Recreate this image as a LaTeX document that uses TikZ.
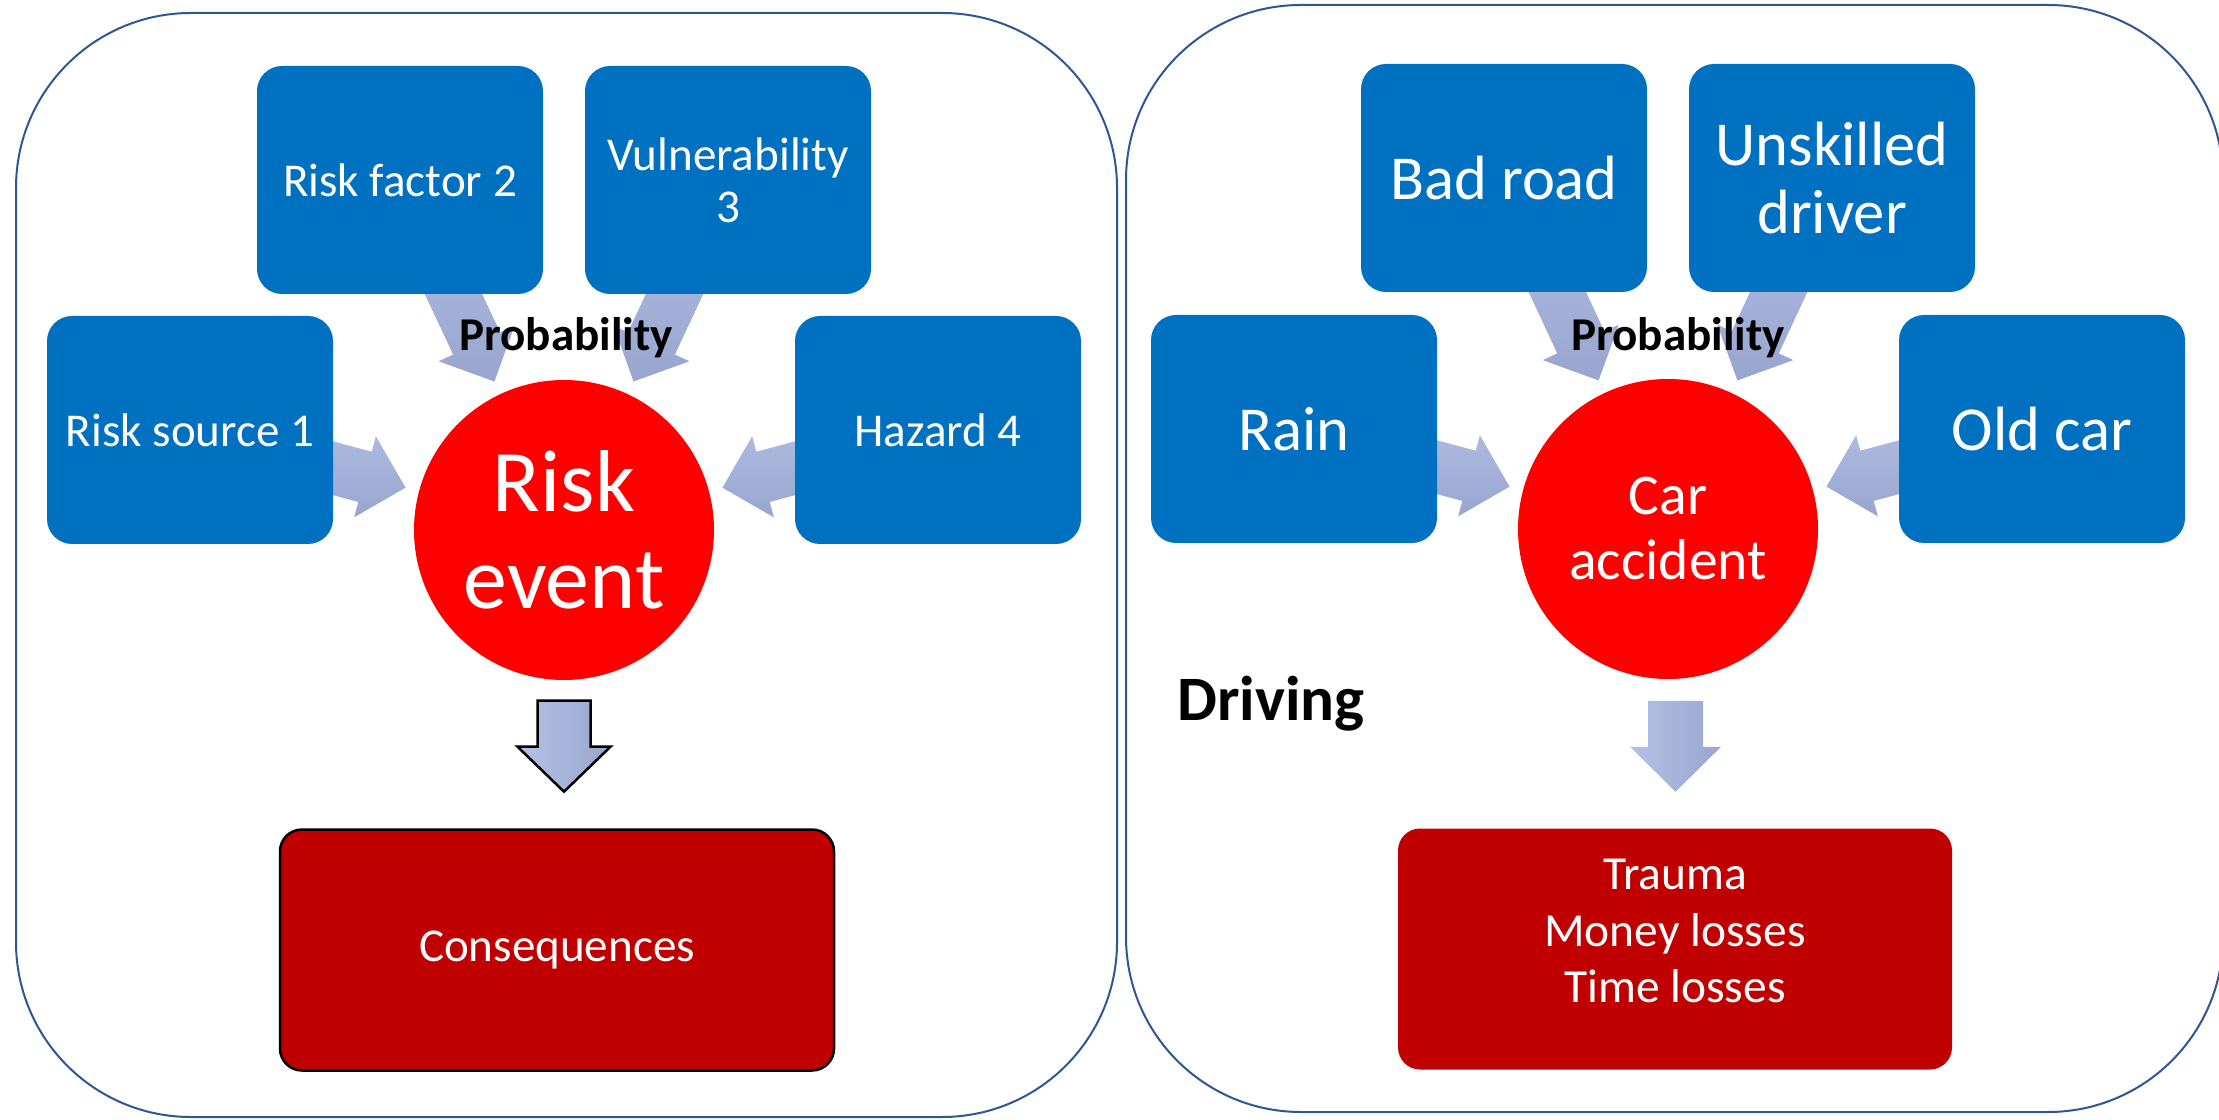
\documentclass[tikz,border=0pt]{standalone}
\usepackage{fontspec}
\setmainfont{Carlito}
\usetikzlibrary{calc}
\definecolor{boxblue}{HTML}{0070C0}
\definecolor{evred}{HTML}{FF0000}
\definecolor{consred}{HTML}{C00000}
\definecolor{panelblue}{HTML}{2F5597}
\definecolor{arrlight}{HTML}{B5C1E5}
\definecolor{arrdark}{HTML}{98A6CF}
\pgfdeclarelayer{bg}
\pgfsetlayers{bg,main}
\newcommand\convarrow[2]{%
  \coordinate (hb) at ($(#2.center)!20.6mm!(#1.center)$);
  \path[flowarr] ($(#2.center)!16.4mm!(#1.center)$)
    -- ($(hb)!4.2mm!90:(#1.center)$)
    -- ($(hb)!2.6mm!90:(#1.center)$)
    -- ($(#1.center)!2.6mm!-90:(#2.center)$)
    -- ($(#1.center)!2.6mm!90:(#2.center)$)
    -- ($(hb)!2.6mm!-90:(#1.center)$)
    -- ($(hb)!4.2mm!-90:(#1.center)$)
    -- cycle;}
\begin{document}
\begin{tikzpicture}[x=0.1mm,y=-0.1mm,
  panel/.style={draw=panelblue, line width=0.2mm, rounded corners=17.5mm},
  factor/.style={fill=boxblue, rounded corners=2.5mm, minimum width=28.6mm,
    minimum height=22.8mm, text=white, align=center, inner sep=0pt},
  smalltxt/.style={font=\fontsize{13.4}{14.8}\selectfont},
  bigtxt/.style={font=\fontsize{17.8}{19.6}\selectfont},
  event/.style={circle, fill=evred, minimum size=30mm, text=white,
    align=center, inner sep=0pt},
  cons/.style={fill=consred, rounded corners=2.2mm, minimum width=55.4mm,
    minimum height=24.1mm, text=white, align=center, inner sep=0pt},
  prob/.style={font=\bfseries\fontsize{13.4}{15}\selectfont, inner sep=0pt},
  flowarr/.style={top color=arrlight, bottom color=arrdark},
  downarr/.style={left color=arrlight, right color=arrdark}]
\useasboundingbox (0,0) rectangle (2219,1120);
\clip (0,0) rectangle (2219,1120);

% panels
\draw[panel] (16,13) rectangle (1117,1117);
\draw[panel] (1126,5) rectangle (2223,1112);

% left panel
\node[factor, smalltxt] (rs1) at (190,430) {Risk source 1};
\node[factor, smalltxt] (rf2) at (400,180) {Risk factor 2};
\node[factor, font=\fontsize{13.4}{14.8}\selectfont] (v3) at (728,180) {Vulnerability\\3};
\node[factor, smalltxt] (hz4) at (938,430) {Hazard 4};
\node[event, font=\fontsize{25}{27.6}\selectfont] (re) at (564,530) {Risk\\event};
\node[cons, draw=black, line width=0.25mm, smalltxt] (cq) at (557,950) {Consequences};
\node[prob] (p1) at (566,338) {Probability};

% right panel
\node[factor, bigtxt] (rain) at (1294,429) {Rain};
\node[factor, bigtxt] (bad) at (1504,178) {Bad road};
\node[factor, bigtxt] (uns) at (1832,178) {Unskilled\\driver};
\node[factor, bigtxt] (old) at (2042,429) {Old car};
\node[event, font=\fontsize{16.4}{18.5}\selectfont] (ca) at (1668,529) {Car\\accident};
\node[cons] (tr) at (1675,949) {};
\node[text=white, align=center, inner sep=0pt, font=\fontsize{13.5}{16.2}\selectfont] (trt) at (1675,931) {Trauma\\Money losses\\Time losses};
\node[prob] (p2) at (1678,338) {Probability};
\node[font=\bfseries\fontsize{18}{20}\selectfont, inner sep=0pt] (drv) at (1271,704) {Driving};

\begin{pgfonlayer}{bg}
  \convarrow{rs1}{re}
  \convarrow{rf2}{re}
  \convarrow{v3}{re}
  \convarrow{hz4}{re}
  \convarrow{rain}{ca}
  \convarrow{bad}{ca}
  \convarrow{uns}{ca}
  \convarrow{old}{ca}
\end{pgfonlayer}

% down arrows
\path[downarr, draw=black, line width=0.25mm, line join=miter]
  ($(re.south)+(-26.5,20)$) -- ++(53,0) -- ++(0,46) -- ++(20,0)
  -- ++(-46.5,45) -- ++(-46.5,-45) -- ++(20,0) -- cycle;
\path[downarr]
  ($(tr.north)+(-27,-127)$) -- ++(55,0) -- ++(0,46) -- ++(18,0)
  -- ++(-45.5,45) -- ++(-45.5,-45) -- ++(18,0) -- cycle;
\end{tikzpicture}
\end{document}
